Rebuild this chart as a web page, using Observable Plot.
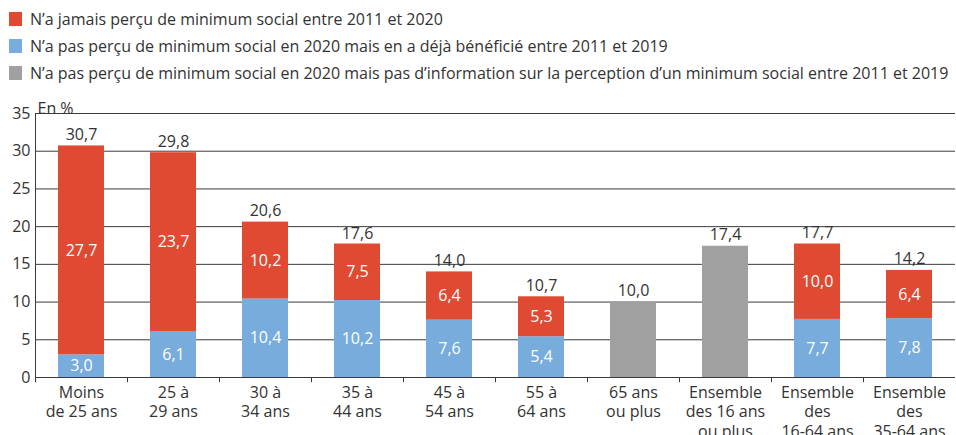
<!DOCTYPE html>
<html><head><meta charset="utf-8">
<script src="https://cdn.jsdelivr.net/npm/d3@7"></script>
<script src="https://cdn.jsdelivr.net/npm/@observablehq/plot@0.6"></script>
<style>
body{margin:0;background:#fff;font-family:"Open Sans",sans-serif;color:#333;}
#legend{height:90px;box-sizing:border-box;padding-top:5px;}
.li{display:flex;align-items:center;height:27px;font-size:16px;white-space:nowrap;}
.sw{width:13px;height:14px;margin-left:9px;margin-right:8px;flex:none;}
svg{display:block;}
</style></head>
<body>
<div id="legend"></div>
<div id="chart"></div>
<script>
const categories = ["Moins\nde 25 ans","25 à\n29 ans","30 à\n34 ans","35 à\n44 ans","45 à\n54 ans","55 à\n64 ans","65 ans\nou plus","Ensemble\ndes 16 ans\nou plus","Ensemble\ndes\n16-64 ans","Ensemble\ndes\n35-64 ans"];
const seriesNames = [
  "N’a jamais perçu de minimum social entre 2011 et 2020",
  "N’a pas perçu de minimum social en 2020 mais en a déjà bénéficié entre 2011 et 2019",
  "N’a pas perçu de minimum social en 2020 mais pas d’information sur la perception d’un minimum social entre 2011 et 2019"
];
const seriesColors = ["#e04a33","#78acdc","#a0a0a0"];
const redVals  = [27.7,23.7,10.2,7.5,6.4,5.3,null,null,10.0,6.4];
const blueVals = [3.0,6.1,10.4,10.2,7.6,5.4,null,null,7.7,7.8];
const grayVals = [null,null,null,null,null,null,10.0,17.4,null,null];
const totals   = [30.7,29.8,20.6,17.6,14.0,10.7,10.0,17.4,17.7,14.2];
const yTicks = [0,5,10,15,20,25,30,35];

// legend
const leg = document.getElementById("legend");
seriesNames.forEach((n,i)=>{
  const d=document.createElement("div");d.className="li";
  const s=document.createElement("span");s.className="sw";s.style.background=seriesColors[i];
  const t=document.createElement("span");t.textContent=n;
  d.appendChild(s);d.appendChild(t);leg.appendChild(d);
});

const rows=[];
categories.forEach((c,i)=>{
  if(blueVals[i]!=null) rows.push({cat:c,series:seriesNames[1],value:blueVals[i]});
  if(redVals[i]!=null) rows.push({cat:c,series:seriesNames[0],value:redVals[i]});
  if(grayVals[i]!=null) rows.push({cat:c,series:seriesNames[2],value:grayVals[i]});
});
const inner = rows.filter(d=>d.series!==seriesNames[2]);
const tot = categories.map((c,i)=>({cat:c,value:totals[i]}));
const fmt = v => v.toFixed(1).replace(".",",");
const W=956, H=345, mL=35, mR=1;
const bw=(W-mL-mR)/categories.length;
const ord=[seriesNames[1],seriesNames[0],seriesNames[2]];

const chart = Plot.plot({
  width:W,height:H,marginLeft:mL,marginRight:mR,marginTop:23,marginBottom:58,
  style:{fontFamily:"Open Sans, sans-serif",fontSize:"16px",color:"#333",background:"#fff"},
  x:{domain:categories,padding:0,label:null},
  y:{domain:[0,35],label:null},
  color:{domain:seriesNames,range:seriesColors},
  marks:[
    Plot.ruleY(yTicks,{stroke:"#3a3a3a",strokeWidth:1}),
    Plot.barY(rows,{x:"cat",y:"value",fill:"series",order:ord,insetLeft:23,insetRight:23}),
    Plot.text(inner,Plot.stackY({x:"cat",y:"value",z:"series",order:ord,text:d=>fmt(d.value),fill:"white",fontSize:16})),
    Plot.text(tot,{x:"cat",y:"value",text:d=>fmt(d.value),lineAnchor:"bottom",dy:-6,fill:"#333",fontSize:16}),
    Plot.ruleX(categories,{x:d=>d,y1:-0.7,y2:0,dx:-bw/2,stroke:"#3a3a3a"}),
    Plot.ruleX([categories[0]],{x:d=>d,y1:0,y2:35,dx:-bw/2,stroke:"#3a3a3a"}),
    Plot.axisY(yTicks,{tickSize:0,tickPadding:5,fontSize:16,label:null,fill:"#333"}),
    Plot.axisX({tickSize:0,tickPadding:7,fontSize:16,lineHeight:1.2,label:null,fill:"#333"}),
    Plot.text(["En %"],{frameAnchor:"top-left",textAnchor:"start",dx:2,dy:-11,fontSize:16,fill:"#333"})
  ]
});
document.getElementById("chart").appendChild(chart);
</script>
</body></html>
